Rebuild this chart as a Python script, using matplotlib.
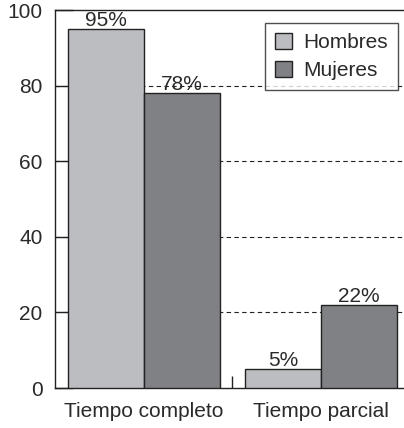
import matplotlib
matplotlib.use("Agg")
import matplotlib.pyplot as plt
import numpy as np

categories = ["Tiempo completo", "Tiempo parcial"]
series_names = ["Hombres", "Mujeres"]
hombres = [95, 5]
mujeres = [78, 22]
yticks = [0, 20, 40, 60, 80, 100]

plt.rcParams['font.family'] = ['Liberation Sans', 'DejaVu Sans']
txt = '#2a2a2a'
fs = 15

fig = plt.figure(figsize=(4.04, 4.28), dpi=100)
ax = fig.add_axes([55/404, 1-388/428, 1-55/404, 378/428])

x = np.arange(len(categories))
w = 0.43
c_h = '#bcbdc1'
c_m = '#808185'
for yv in yticks[1:-1]:
    ax.axhline(yv, color='#222222', lw=0.8, ls=(0, (4, 3)), zorder=1)
b1 = ax.bar(x - w/2, hombres, w, color=c_h, edgecolor='#222222', lw=1.0, label=series_names[0], zorder=3)
b2 = ax.bar(x + w/2, mujeres, w, color=c_m, edgecolor='#222222', lw=1.0, label=series_names[1], zorder=3)
for bars, vals in ((b1, hombres), (b2, mujeres)):
    for r, v in zip(bars, vals):
        ax.text(r.get_x() + r.get_width()/2, v - 0.3, f"{v}%", ha='center', va='bottom',
                fontsize=fs, color=txt, zorder=4)

ax.set_xlim(-0.503, 1.47)
ax.set_ylim(0, 100)
ax.set_yticks(yticks)
ax.set_xticks(x)
ax.set_xticklabels(categories)
ax.tick_params(axis='y', direction='in', length=13, width=1, colors='#222222', labelcolor=txt, labelsize=fs, pad=9)
ax.tick_params(axis='x', length=0, labelcolor=txt, labelsize=fs, pad=10)
ax.set_xticks([0.5], minor=True)
ax.tick_params(axis='x', which='minor', direction='in', length=9, width=1, color='#222222')
for s in ['left', 'bottom', 'top']:
    ax.spines[s].set_linewidth(1.0)
    ax.spines[s].set_color('#222222')
ax.spines['right'].set_visible(False)

leg = ax.legend(loc='upper right', bbox_to_anchor=(0.984, 0.966), fontsize=fs, frameon=True,
                fancybox=False, edgecolor='#222222', handlelength=0.8, handleheight=0.8,
                handletextpad=0.55, borderpad=0.5, labelspacing=0.4, borderaxespad=0)
leg.get_frame().set_linewidth(1.0)
for t in leg.get_texts():
    t.set_color(txt)

fig.savefig('out.png', dpi=100)
